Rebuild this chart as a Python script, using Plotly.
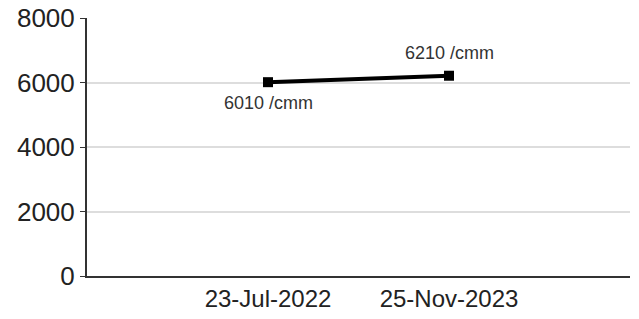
import plotly.graph_objects as go

dates = ["23-Jul-2022", "25-Nov-2023"]
values = [6010, 6210]
labels = ["6010 /cmm", "6210 /cmm"]
y_ticks = [0, 2000, 4000, 6000, 8000]

fig = go.Figure()
fig.add_trace(go.Scatter(
    x=dates, y=values,
    mode="lines+markers",
    line=dict(color="#000000", width=4),
    marker=dict(symbol="square", size=10, color="#000000"),
    showlegend=False,
    cliponaxis=False,
))

shifts = [-21, 23]
for d, v, t, s in zip(dates, values, labels, shifts):
    fig.add_annotation(
        x=d, y=v, text=t, showarrow=False, yshift=s,
        font=dict(family="Liberation Sans, Arial", size=18, color="#333333"),
    )

fig.update_layout(
    width=639, height=319,
    margin=dict(l=87, r=9, t=18, b=43),
    paper_bgcolor="white", plot_bgcolor="white",
    font=dict(family="Liberation Sans, Arial", color="#222222"),
    xaxis=dict(
        type="category", range=[-1, 2], automargin=False,
        showgrid=False, showline=True, linecolor="#333333", linewidth=2,
        ticks="", tickfont=dict(size=24, color="#222222"),
        zeroline=False,
    ),
    yaxis=dict(
        range=[0, 8000], tickvals=y_ticks, automargin=False,
        showgrid=True, gridcolor="#dddddd", gridwidth=1.5,
        showline=True, linecolor="#333333", linewidth=2,
        ticks="outside", ticklen=5, tickcolor="#333333",
        tickfont=dict(size=26, color="#222222"),
        zeroline=False,
    ),
)

fig.write_html(
    "out.html",
    config={"displayModeBar": False},
    post_script="document.body.style.margin='0';document.body.style.overflow='hidden';",
)
